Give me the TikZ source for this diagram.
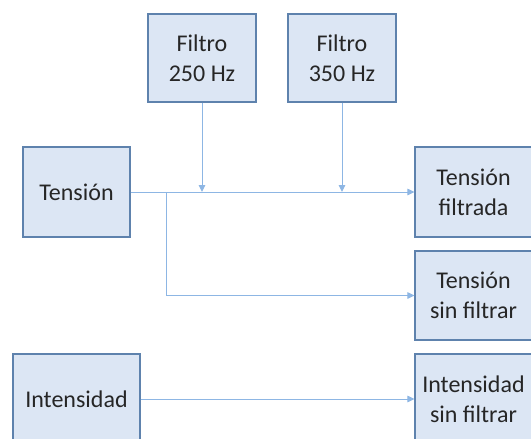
\documentclass[tikz,border=0pt]{standalone}
\usepackage{fontspec}
\setmainfont{Carlito}
\usetikzlibrary{arrows.meta}
\definecolor{boxfill}{HTML}{DCE6F4}
\definecolor{boxline}{HTML}{5E82AD}
\definecolor{conn}{HTML}{8DB6E4}
\definecolor{txt}{HTML}{262626}
\tikzset{
  blockbox/.style={draw=boxline, line width=1.1pt, fill=boxfill, inner sep=0pt,
    align=center, text=txt, font=\fontsize{24}{30}\selectfont},
  conline/.style={draw=conn, line width=1pt},
  conarrow/.style={conline, -{Triangle[length=7pt,width=6.5pt]}}
}
\begin{document}
\begin{tikzpicture}[x=1pt,y=-1pt]
\useasboundingbox (0,0) rectangle (531,439);
\clip (0,0) rectangle (531,439);
\node[blockbox, minimum width=108pt, minimum height=88pt] (f250) at (202,58) {Filtro\\250 Hz};
\node[blockbox, minimum width=108pt, minimum height=88pt] (f350) at (342,58) {Filtro\\350 Hz};
\node[blockbox, minimum width=107pt, minimum height=90pt] (ten) at (76.5,192) {Tensión};
\node[blockbox, minimum width=127pt, minimum height=90pt] (int) at (76.5,399) {Intensidad};
\node[blockbox, minimum width=117pt, minimum height=90pt] (tf) at (473.5,192) {Tensión\\filtrada};
\node[blockbox, minimum width=117pt, minimum height=89pt] (tsf) at (473.5,295.5) {Tensión\\sin filtrar};
\node[blockbox, minimum width=117pt, minimum height=90pt] (isf) at (473.5,399) {Intensidad\\sin filtrar};
\coordinate (br) at (166,192);
\draw[conarrow] (ten.east) -- (tf.west);
\draw[conarrow] (br) -- (br |- tsf.west) -- (tsf.west);
\draw[conarrow] (int.east) -- (isf.west);
\draw[conarrow] (f250.south) -- (f250.south |- ten.east);
\draw[conarrow] (f350.south) -- (f350.south |- ten.east);
\end{tikzpicture}
\end{document}
